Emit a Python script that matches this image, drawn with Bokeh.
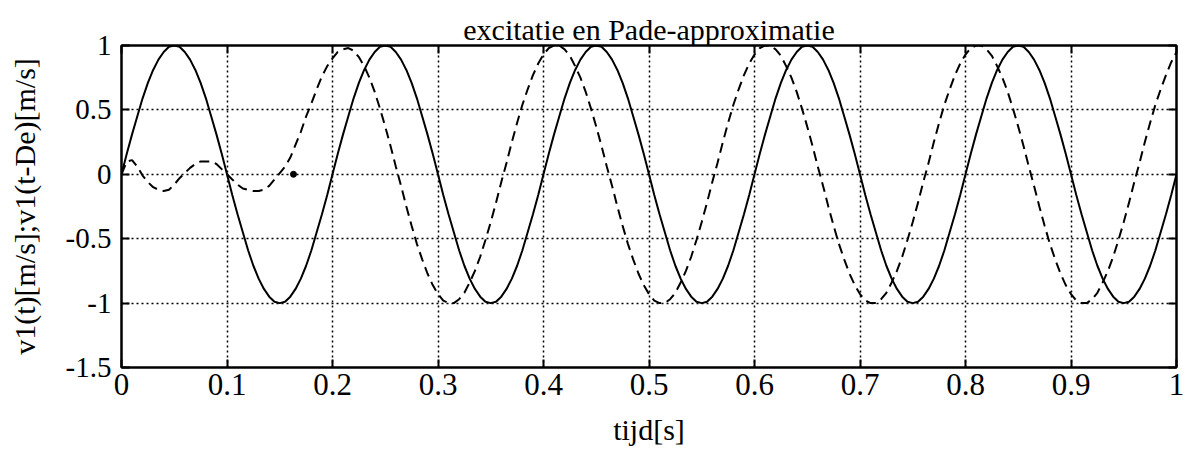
from bokeh.plotting import figure
from bokeh.models import Range1d, FixedTicker, LinearAxis, ColumnDataSource
from bokeh.embed import file_html
from bokeh.resources import INLINE

# ---- data ----
T_STEP = 0.005  # sampling step of the time axis [s]

# excitation v1(t) [m/s]
v1 = [
    0.00, 0.16, 0.31, 0.45, 0.59, 0.71, 0.81, 0.89, 0.95, 0.99, 1.00, 0.99, 0.95, 0.89, 0.81, 0.71, 0.59, 0.45, 0.31, 0.16,
    0.00, -0.16, -0.31, -0.45, -0.59, -0.71, -0.81, -0.89, -0.95, -0.99, -1.00, -0.99, -0.95, -0.89, -0.81, -0.71, -0.59, -0.45, -0.31, -0.16,
    0.00, 0.16, 0.31, 0.45, 0.59, 0.71, 0.81, 0.89, 0.95, 0.99, 1.00, 0.99, 0.95, 0.89, 0.81, 0.71, 0.59, 0.45, 0.31, 0.16,
    0.00, -0.16, -0.31, -0.45, -0.59, -0.71, -0.81, -0.89, -0.95, -0.99, -1.00, -0.99, -0.95, -0.89, -0.81, -0.71, -0.59, -0.45, -0.31, -0.16,
    0.00, 0.16, 0.31, 0.45, 0.59, 0.71, 0.81, 0.89, 0.95, 0.99, 1.00, 0.99, 0.95, 0.89, 0.81, 0.71, 0.59, 0.45, 0.31, 0.16,
    0.00, -0.16, -0.31, -0.45, -0.59, -0.71, -0.81, -0.89, -0.95, -0.99, -1.00, -0.99, -0.95, -0.89, -0.81, -0.71, -0.59, -0.45, -0.31, -0.16,
    0.00, 0.16, 0.31, 0.45, 0.59, 0.71, 0.81, 0.89, 0.95, 0.99, 1.00, 0.99, 0.95, 0.89, 0.81, 0.71, 0.59, 0.45, 0.31, 0.16,
    0.00, -0.16, -0.31, -0.45, -0.59, -0.71, -0.81, -0.89, -0.95, -0.99, -1.00, -0.99, -0.95, -0.89, -0.81, -0.71, -0.59, -0.45, -0.31, -0.16,
    0.00, 0.16, 0.31, 0.45, 0.59, 0.71, 0.81, 0.89, 0.95, 0.99, 1.00, 0.99, 0.95, 0.89, 0.81, 0.71, 0.59, 0.45, 0.31, 0.16,
    0.00, -0.16, -0.31, -0.45, -0.59, -0.71, -0.81, -0.89, -0.95, -0.99, -1.00, -0.99, -0.95, -0.89, -0.81, -0.71, -0.59, -0.45, -0.31, -0.16,
    0.00,
]

# Pade approximation of the delayed excitation v1(t-De) [m/s]
v1_delay = [
    0.00, 0.10, 0.11, 0.06, -0.01, -0.06, -0.10, -0.12, -0.13, -0.12,
    -0.08, -0.03, 0.01, 0.05, 0.08, 0.10, 0.10, 0.10, 0.08, 0.04,
    0.00, -0.04, -0.08, -0.11, -0.12, -0.13, -0.13, -0.12, -0.09, -0.04,
    0.01, 0.06, 0.13, 0.23, 0.33, 0.45, 0.55, 0.66, 0.76, 0.84,
    0.90, 0.95, 0.97, 0.98, 0.96, 0.91, 0.84, 0.75, 0.64, 0.51, 0.37, 0.22, 0.06,
    -0.09, -0.25, -0.40, -0.54, -0.66, -0.77, -0.86, -0.93, -0.98, -1.00, -1.00, -0.97, -0.92, -0.84, -0.75, -0.64, -0.51, -0.37, -0.22, -0.06,
    0.09, 0.25, 0.40, 0.54, 0.66, 0.77, 0.86,
    0.93, 0.98, 1.00, 1.00, 0.97, 0.92, 0.84, 0.75, 0.64, 0.51, 0.37, 0.22, 0.06, -0.09, -0.25, -0.40, -0.54, -0.66, -0.77, -0.86,
    -0.93, -0.98, -1.00, -1.00, -0.97, -0.92, -0.84, -0.75, -0.64, -0.51, -0.37, -0.22, -0.06, 0.09, 0.25, 0.40, 0.54, 0.66, 0.77, 0.86,
    0.93, 0.98, 1.00, 1.00, 0.97, 0.92, 0.84, 0.75, 0.64, 0.51, 0.37, 0.22, 0.06, -0.09, -0.25, -0.40, -0.54, -0.66, -0.77, -0.86,
    -0.93, -0.98, -1.00, -1.00, -0.97, -0.92, -0.84, -0.75, -0.64, -0.51, -0.37, -0.22, -0.06, 0.09, 0.25, 0.40, 0.54, 0.66, 0.77, 0.86,
    0.93, 0.98, 1.00, 1.00, 0.97, 0.92, 0.84, 0.75, 0.64, 0.51, 0.37, 0.22, 0.06, -0.09, -0.25, -0.40, -0.54, -0.66, -0.77, -0.86,
    -0.93, -0.98, -1.00, -1.00, -0.97, -0.92, -0.84, -0.75, -0.64, -0.51, -0.37, -0.22, -0.06, 0.09, 0.25, 0.40, 0.54, 0.66, 0.77, 0.87,
    0.95,
]

# isolated dot on the zero line
dot_t = [0.163]
dot_v = [0.0]

x_ticks = [0.0, 0.1, 0.2, 0.3, 0.4, 0.5, 0.6, 0.7, 0.8, 0.9, 1.0]
x_tick_labels = ["0", "0.1", "0.2", "0.3", "0.4", "0.5", "0.6", "0.7", "0.8", "0.9", "1"]
y_ticks = [-1.5, -1.0, -0.5, 0.0, 0.5, 1.0]
y_tick_labels = ["-1.5", "-1", "-0.5", "0", "0.5", "1"]

title_text = "excitatie en Pade-approximatie"
x_label = "tijd[s]"
y_label = "v1(t)[m/s];v1(t-De)[m/s]"

t = [round(i * T_STEP, 4) for i in range(len(v1))]
src = ColumnDataSource(dict(t=t, v1=v1, v1d=v1_delay))

FONT = "Liberation Serif"

p = figure(
    width=1185, height=452,
    x_range=Range1d(0, 1), y_range=Range1d(-1.5, 1),
    output_backend="svg", toolbar_location=None,
    min_border_left=121, min_border_right=9, min_border_top=45, min_border_bottom=85,
    title=title_text,
)
p.background_fill_color = "white"
p.border_fill_color = "white"
p.outline_line_color = "black"
p.outline_line_width = 2

p.title.align = "center"
p.title.text_font = FONT
p.title.text_font_size = "30px"
p.title.text_font_style = "normal"
p.title.text_color = "black"
p.title.standoff = 0

for g in (p.xgrid[0], p.ygrid[0]):
    g.grid_line_color = "black"
    g.grid_line_dash = "2 3"
    g.grid_line_width = 1.5

p.xgrid.ticker = FixedTicker(ticks=x_ticks)
p.ygrid.ticker = FixedTicker(ticks=y_ticks)

xa = p.xaxis[0]
xa.ticker = FixedTicker(ticks=x_ticks)
xa.major_label_overrides = {v: s for v, s in zip(x_ticks, x_tick_labels)}
xa.axis_label = x_label
ya = p.yaxis[0]
ya.ticker = FixedTicker(ticks=y_ticks)
ya.major_label_overrides = {v: s for v, s in zip(y_ticks, y_tick_labels)}
ya.axis_label = y_label

for ax in (xa, ya):
    ax.axis_line_color = "black"
    ax.axis_line_width = 2
    ax.major_tick_in = 8
    ax.major_tick_out = 0
    ax.major_tick_line_width = 2
    ax.minor_tick_line_color = None
    ax.major_label_text_font = FONT
    ax.major_label_text_color = "black"
    ax.axis_label_text_font = FONT
    ax.axis_label_text_font_size = "30px"
    ax.axis_label_text_font_style = "normal"
    ax.axis_label_text_color = "black"

xa.major_label_text_font_size = "31px"
ya.major_label_text_font_size = "29px"
xa.major_label_standoff = 6
xa.axis_label_standoff = 15
ya.major_label_standoff = 10
ya.axis_label_standoff = 22

ra = LinearAxis(ticker=FixedTicker(ticks=y_ticks), major_label_text_alpha=0,
                major_label_text_font_size="1px",
                axis_line_width=2, major_tick_in=8, major_tick_out=0,
                major_tick_line_width=2, minor_tick_line_color=None)
p.add_layout(ra, "right")
ta = LinearAxis(ticker=FixedTicker(ticks=x_ticks), major_label_text_alpha=0,
                major_label_text_font_size="1px",
                axis_line_width=2, major_tick_in=8, major_tick_out=0,
                major_tick_line_width=2, minor_tick_line_color=None)
p.add_layout(ta, "above")

p.line("t", "v1", source=src, line_color="black", line_width=2)
p.line("t", "v1d", source=src, line_color="black", line_width=2, line_dash="10 6")
p.scatter(dot_t, dot_v, size=6, color="black")

open("out.html", "w").write(file_html(p, INLINE))
